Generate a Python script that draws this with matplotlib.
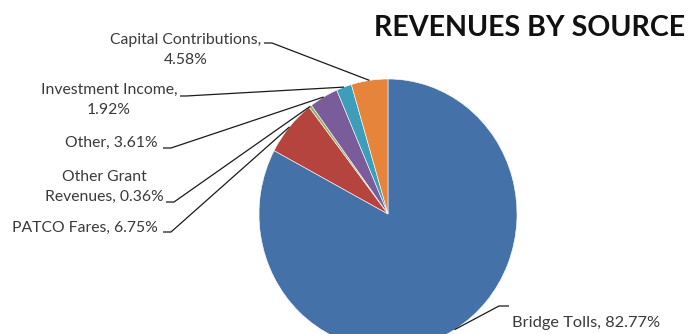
import numpy as np
import matplotlib
matplotlib.use("Agg")
import matplotlib.pyplot as plt

plt.rcParams['font.family'] = ['Lato', 'DejaVu Sans']

# Revenue shares (percent), in drawing order clockwise from 12 o'clock
sources = ["Bridge Tolls", "PATCO Fares", "Other Grant Revenues", "Other",
           "Investment Income", "Capital Contributions"]
shares = [82.77, 6.75, 0.36, 3.61, 1.92, 4.58]
label_texts = ["Bridge Tolls, 82.77%", "PATCO Fares, 6.75%",
               "Other Grant\nRevenues, 0.36%", "Other, 3.61%",
               "Investment Income,\n1.92%", "Capital Contributions,\n4.58%"]
colors = ["#4571A9", "#B5443F", "#9BAE5A", "#7B5C9B", "#3D9EBA", "#E6843B"]

W, H = 689, 334
CX, CY, RX, RY = 388, 214, 129, 135


def px(x, y):
    """Pixel position (origin top-left) -> data coordinates of the pie axes."""
    return ((x - CX) / RX, (CY - y) / RY)


fig = plt.figure(figsize=(W / 100, H / 100), dpi=100)
ax = fig.add_axes([0, 0, 1, 1])

wedges, _ = ax.pie(shares, colors=colors, startangle=90, counterclock=False,
                   radius=1, center=(0, 0),
                   wedgeprops=dict(edgecolor="white", linewidth=0.4))
ax.set_aspect("auto")
ax.set_xlim(px(0, 0)[0], px(W, 0)[0])
ax.set_ylim(px(0, H)[1], px(0, 0)[1])
ax.axis("off")

# label layout: text anchor (pixels), alignment, leader start (pixels), leader kink dx
layout = {
    "Bridge Tolls": dict(pos=(512, 323), ha="left", lead=(509, 306), kink=-10, size=11.8),
    "PATCO Fares": dict(pos=(158, 228), ha="right", lead=(163, 232), kink=8, size=11.3),
    "Other Grant Revenues": dict(pos=(104, 187), ha="center", lead=(166, 202), kink=8, size=11.3),
    "Other": dict(pos=(158, 143), ha="right", lead=(163, 148), kink=8, size=11.3),
    "Investment Income": dict(pos=(109, 100), ha="center", lead=(180, 96), kink=6, size=11.3),
    "Capital Contributions": dict(pos=(186, 50), ha="center", lead=(264, 43), kink=8, size=11.3),
}

for w, name, txt in zip(wedges, sources, label_texts):
    L = layout[name]
    tx, ty = px(*L["pos"])
    ax.text(tx, ty, txt, ha=L["ha"], va="center", fontsize=L["size"],
            color="#3a3a3a", linespacing=1.55)
    mid = np.deg2rad((w.theta1 + w.theta2) / 2)
    ex, ey = np.cos(mid), np.sin(mid)
    sx, sy = px(*L["lead"])
    kx, ky = px(L["lead"][0] + L["kink"], L["lead"][1])
    ax.plot([sx, kx, ex], [sy, ky, ey], color="#1a1a1a", lw=0.9,
            solid_capstyle="butt")

tx, ty = px(530, 28)
ax.text(tx, ty, "REVENUES BY SOURCE", ha="center", va="center",
        fontsize=20.6, fontweight="bold", color="#111111")

fig.savefig("out.png", dpi=100)
